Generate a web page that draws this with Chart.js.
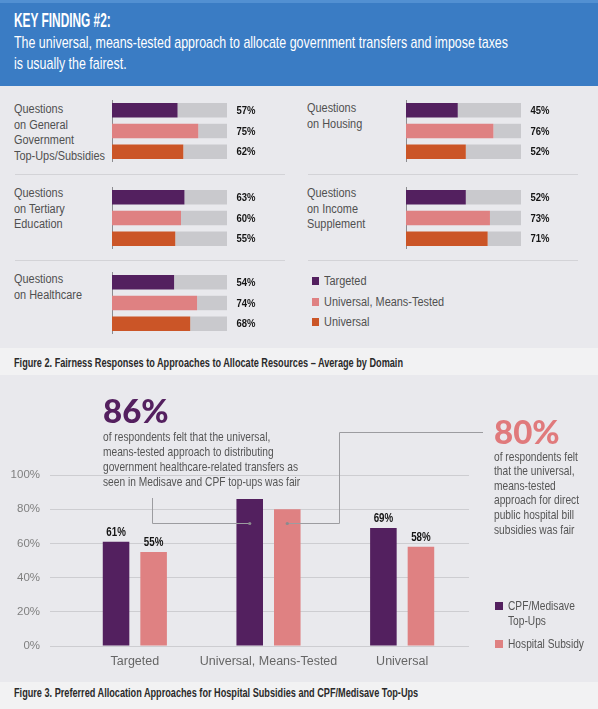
<!DOCTYPE html>
<html><head><meta charset="utf-8">
<script src="https://cdn.jsdelivr.net/npm/chart.js@4/dist/chart.umd.min.js"></script>
<style>
html,body{margin:0;padding:0;}
body{width:598px;height:709px;position:relative;overflow:hidden;background:#e9e9ed;font-family:'Liberation Sans',Arial,sans-serif;}
.abs{position:absolute;white-space:nowrap;transform-origin:0 0;}
.title{font-weight:bold;font-size:19.5px;line-height:22px;color:#fff;}
.sub{font-size:17px;line-height:20.5px;color:#fff;}
.lab{font-size:12px;line-height:15.5px;color:#505050;}
.leg{font-size:12px;line-height:15px;color:#505050;}
.call{font-size:12.6px;line-height:15px;color:#555;}
.cap{font-weight:bold;font-size:12.5px;line-height:16px;color:#2a2a2a;}
.big{font-family:Lato,'Liberation Sans',sans-serif;font-weight:900;font-size:33px;line-height:36px;}
.sq{position:absolute;width:7.5px;height:7.5px;}
.sep{position:absolute;height:1px;background:#d3d3d7;}
canvas{position:absolute;}
</style>
</head>
<body>
<div class="abs" style="left:0;top:0;width:598px;height:86px;background:#3a7cc4"></div>
<div class="abs" style="left:0;top:0;width:598px;height:3px;background:#5290d2"></div>
<div class="abs title" style="left:14px;top:8.7px">KEY FINDING #2:</div>
<div class="abs sub" style="left:14px;top:33px">The universal, means-tested approach to allocate government transfers and impose taxes<br>is usually the fairest.</div>

<div class="abs lab" style="left:14px;top:102.3px">Questions<br>on General<br>Government<br>Top-Ups/Subsidies</div>
<div class="abs lab" style="left:14px;top:186.3px">Questions<br>on Tertiary<br>Education</div>
<div class="abs lab" style="left:14px;top:272.3px">Questions<br>on Healthcare</div>
<div class="abs lab" style="left:307px;top:101.3px">Questions<br>on Housing</div>
<div class="abs lab" style="left:307px;top:186.3px">Questions<br>on Income<br>Supplement</div>

<div class="sep" style="left:15px;top:174px;width:270px"></div>
<div class="sep" style="left:308px;top:174px;width:270px"></div>
<div class="sep" style="left:15px;top:260px;width:270px"></div>
<div class="sep" style="left:308px;top:260px;width:270px"></div>

<div id="topLegend"></div>

<div class="abs" style="left:0;top:348px;width:598px;height:27px;background:#f2f2f3"></div>
<div class="abs cap" id="cap2" style="left:14px;top:354.5px">Figure 2. Fairness Responses to Approaches to Allocate Resources – Average by Domain</div>

<canvas id="main" width="598" height="300" style="left:0;top:380px"></canvas>

<div class="abs big" style="left:103px;top:392px;color:#54205f">86%</div>
<div class="abs call" id="call1" style="left:103px;top:429.5px">of respondents felt that the universal,<br>means-tested approach to distributing<br>government healthcare-related transfers as<br>seen in Medisave and CPF top-ups was fair</div>
<div class="abs big" style="left:494px;top:412.5px;color:#e07a7c">80%</div>
<div class="abs call" style="left:494px;top:449.7px;line-height:14.6px">of respondents felt<br>that the universal,<br>means-tested<br>approach for direct<br>public hospital bill<br>subsidies was fair</div>

<div id="bottomLegend"></div>

<div class="abs" style="left:0;top:682px;width:598px;height:27px;background:#f2f2f3"></div>
<div class="abs cap" id="cap3" style="left:14px;top:685.3px">Figure 3. Preferred Allocation Approaches for Hospital Subsidies and CPF/Medisave Top-Ups</div>

<script>
// ---------- DATA ----------
const approaches = ['Targeted', 'Universal, Means-Tested', 'Universal'];
const generalTopUps = [57, 75, 62];
const housing = [45, 76, 52];
const tertiaryEducation = [63, 60, 55];
const incomeSupplement = [52, 73, 71];
const healthcare = [54, 74, 68];

const hospitalCategories = ['Targeted', 'Universal, Means-Tested', 'Universal'];
const cpfMedisaveTopUps = [61, 86, 69];
const hospitalSubsidy = [55, 80, 58];
const bottomSeriesNames = ['CPF/Medisave Top-Ups', 'Hospital Subsidy'];
const calloutIndex = 1;          // category described by the 86% / 80% callouts
const yTickStep = 20;            // 0%,20%,...,100%

// ---------- STYLE ----------
const PURPLE = '#53205f', SALMON = '#df8182', ORANGE = '#cb5527', TRACK = '#c9c9cd';
const approachColors = [PURPLE, SALMON, ORANGE];
const SANS = "'Liberation Sans', Arial, sans-serif";

const mctx = document.createElement('canvas').getContext('2d');
function sc(text, font, w){ mctx.font = font; return w / mctx.measureText(text).width; }
const sTitle = sc('KEY FINDING #2:', "bold 19.5px " + SANS, 97);
const sSub = sc('The universal, means-tested approach to allocate government transfers and impose taxes', "17px " + SANS, 494);
const sLab = sc('Top-Ups/Subsidies', "12px " + SANS, 91);
const sCall = sc('government healthcare-related transfers as', "12.6px " + SANS, 195);
const sCap = sc('Figure 2. Fairness Responses to Approaches to Allocate Resources – Average by Domain', "bold 12.5px " + SANS, 390);
const sVal = sc('57%', "bold 11.5px " + SANS, 19);
const sBVal = sc('61%', "bold 13px " + SANS, 19.5);
function applyScale(sel, s){ document.querySelectorAll(sel).forEach(e => e.style.transform = 'scaleX(' + s + ')'); }
applyScale('.title', sTitle); applyScale('.sub', sSub); applyScale('.lab', sLab);
applyScale('.cap', sCap);

// legends
function legend(containerId, names, colors, x, tops, textTops, cls){
  const c = document.getElementById(containerId);
  names.forEach((n, i) => {
    const sq = document.createElement('div'); sq.className = 'sq';
    sq.style.left = x + 'px'; sq.style.top = tops[i] + 'px'; sq.style.background = colors[i];
    c.appendChild(sq);
    const t = document.createElement('div'); t.className = 'abs ' + cls;
    t.style.left = (x + 12.5) + 'px'; t.style.top = textTops[i] + 'px';
    t.innerHTML = n;
    c.appendChild(t);
  });
}
legend('topLegend', approaches, approachColors, 311.5, [277.3, 298.3, 318.3], [273.5, 294.5, 314.5], 'leg');
legend('bottomLegend', ['CPF/Medisave<br>Top-Ups', 'Hospital Subsidy'], [PURPLE, SALMON], 495, [602.3, 640.3], [598.5, 636.5], 'call');
applyScale('.leg', sLab); applyScale('.call', sCall);

// ---------- TOP PANEL: small horizontal bar charts ----------
const topValuePlugin = {
  id: 'topVals',
  afterDatasetsDraw(chart){
    const ctx = chart.ctx, meta = chart.getDatasetMeta(0);
    ctx.save();
    ctx.fillStyle = '#141414';
    ctx.font = "bold 11.5px " + SANS;
    ctx.textBaseline = 'middle';
    meta.data.forEach((bar, i) => {
      const v = chart.data.datasets[0].data[i];
      ctx.save();
      ctx.translate(chart.chartArea.right + 9.5, bar.y + 0.5);
      ctx.scale(sVal, 1);
      ctx.fillText(v + '%', 0, 0);
      ctx.restore();
    });
    ctx.restore();
  }
};

const topGroups = [
  { values: generalTopUps, left: 111, top: 100 },
  { values: housing, left: 405, top: 100 },
  { values: tertiaryEducation, left: 111, top: 187 },
  { values: incomeSupplement, left: 405, top: 187 },
  { values: healthcare, left: 111, top: 272 }
];
topGroups.forEach(g => {
  const cv = document.createElement('canvas');
  cv.width = 175; cv.height = 62;
  cv.style.left = g.left + 'px'; cv.style.top = g.top + 'px';
  document.body.appendChild(cv);
  new Chart(cv, {
    type: 'bar',
    data: {
      labels: approaches,
      datasets: [
        { data: g.values, backgroundColor: approachColors, barPercentage: 0.7, categoryPercentage: 1 },
        { data: g.values.map(v => 100 - v), backgroundColor: TRACK, barPercentage: 0.7, categoryPercentage: 1 }
      ]
    },
    options: {
      indexAxis: 'y', responsive: false, animation: false, devicePixelRatio: 1,
      layout: { padding: { left: 0, right: 59, top: 0, bottom: 0 } },
      plugins: { legend: { display: false }, tooltip: { enabled: false } },
      scales: {
        x: { stacked: true, min: 0, max: 100, display: false },
        y: { stacked: true, ticks: { display: false }, grid: { display: false, drawTicks: false },
             border: { display: true, color: '#8c8c90', width: 1 },
             afterFit(s){ s.width = 1; } }
      }
    },
    plugins: [topValuePlugin]
  });
});

// ---------- BOTTOM CHART ----------
const barLabelPlugin = {
  id: 'barLabels',
  afterDatasetsDraw(chart){
    const ctx = chart.ctx;
    ctx.save();
    ctx.fillStyle = '#141414';
    ctx.font = "bold 13px " + SANS;
    ctx.textAlign = 'center';
    ctx.textBaseline = 'alphabetic';
    chart.data.datasets.forEach((ds, di) => {
      chart.getDatasetMeta(di).data.forEach((bar, i) => {
        if (i === calloutIndex) return;
        ctx.save();
        ctx.translate(bar.x, bar.y - 6);
        ctx.scale(sBVal, 1);
        ctx.fillText(ds.data[i] + '%', 0, 0);
        ctx.restore();
      });
    });
    ctx.restore();
  }
};
const calloutPlugin = {
  id: 'callouts',
  afterDatasetsDraw(chart){
    const ctx = chart.ctx, ys = chart.scales.y;
    const b1 = chart.getDatasetMeta(0).data[calloutIndex];
    const b2 = chart.getDatasetMeta(1).data[calloutIndex];
    const yl = Math.round(ys.getPixelForValue(72)) + 0.5;
    ctx.save();
    ctx.strokeStyle = '#9c9ca0'; ctx.lineWidth = 1;
    ctx.beginPath();
    ctx.moveTo(152.5, 118); ctx.lineTo(152.5, yl); ctx.lineTo(b1.x, yl);
    ctx.moveTo(483, 52.5); ctx.lineTo(339.5, 52.5); ctx.lineTo(339.5, yl); ctx.lineTo(b2.x, yl);
    ctx.stroke();
    ctx.fillStyle = '#8a8a8e';
    [b1.x, b2.x].forEach(x => { ctx.beginPath(); ctx.arc(x, yl, 1.6, 0, Math.PI * 2); ctx.fill(); });
    ctx.restore();
  }
};

new Chart(document.getElementById('main'), {
  type: 'bar',
  data: {
    labels: hospitalCategories,
    datasets: [
      { label: bottomSeriesNames[0], data: cpfMedisaveTopUps, backgroundColor: PURPLE },
      { label: bottomSeriesNames[1], data: hospitalSubsidy, backgroundColor: SALMON }
    ]
  },
  options: {
    responsive: false, animation: false, devicePixelRatio: 1,
    layout: { padding: { left: 0, right: 129, top: 95, bottom: 0 } },
    datasets: { bar: { categoryPercentage: 0.562, barPercentage: 0.707 } },
    plugins: { legend: { display: false }, tooltip: { enabled: false } },
    scales: {
      x: {
        grid: { display: false, drawTicks: false }, border: { display: false },
        ticks: { padding: 8, color: '#666', maxRotation: 0, minRotation: 0, autoSkip: false,
                 font: { family: SANS, size: 12.5 } },
        afterFit(s){ s.height = 34; }
      },
      y: {
        min: 0, max: 100,
        ticks: { stepSize: yTickStep, callback: v => v + '%', padding: 10, color: '#808080', font: { family: SANS, size: 11.5 } },
        grid: { color: '#cdcdd1', tickColor: '#cdcdd1', tickLength: 18, drawTicks: true },
        border: { display: false },
        afterFit(s){ s.width = 68; }
      }
    }
  },
  plugins: [barLabelPlugin, calloutPlugin]
});
</script>
</body></html>
